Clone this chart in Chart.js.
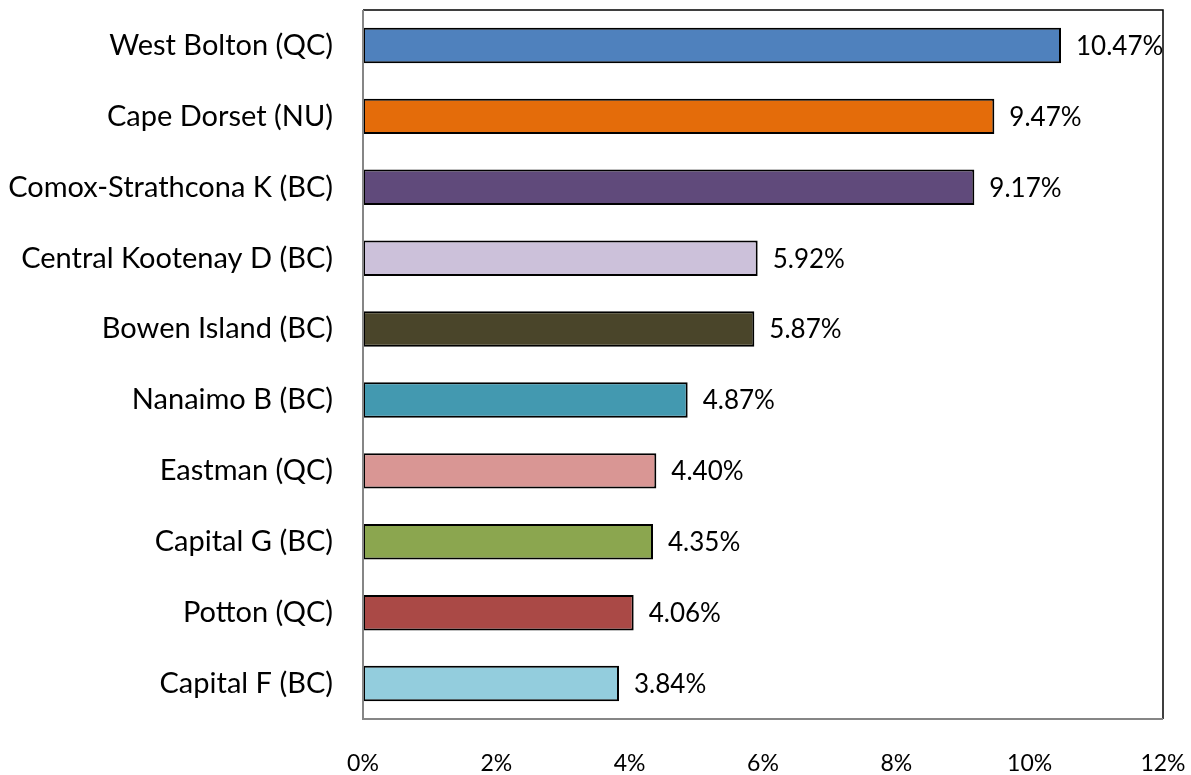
<!DOCTYPE html>
<html>
<head>
<meta charset="utf-8">
<script src="https://cdn.jsdelivr.net/npm/chart.js@4/dist/chart.umd.min.js"></script>
<style>
html,body{margin:0;padding:0;background:#fff;}
#wrap{width:1191px;height:775px;}
</style>
</head>
<body>
<div id="wrap"><canvas id="c" width="1191" height="775"></canvas></div>
<script>
const categories = ["West Bolton (QC)","Cape Dorset (NU)","Comox-Strathcona K (BC)","Central Kootenay D (BC)","Bowen Island (BC)","Nanaimo B (BC)","Eastman (QC)","Capital G (BC)","Potton (QC)","Capital F (BC)"];
const values = [10.47, 9.47, 9.17, 5.92, 5.87, 4.87, 4.40, 4.35, 4.06, 3.84];
const colors = ["#4F81BD","#E46C0A","#604A7B","#CCC1DA","#4A452A","#4399B0","#D99694","#8BA64F","#AA4946","#93CDDD"];
const xTicks = [0,2,4,6,8,10,12];

const FONT = "Lato, 'Open Sans', sans-serif";

const boxPlugin = {
  id:'box',
  afterDatasetsDraw(chart){
    const {ctx, chartArea:a} = chart;
    ctx.save();
    ctx.lineWidth = 1.5;
    ctx.strokeStyle = '#000';
    ctx.beginPath();
    ctx.moveTo(a.left, a.top); ctx.lineTo(a.right, a.top); ctx.lineTo(a.right, a.bottom);
    ctx.stroke();
    ctx.strokeStyle = '#868686';
    ctx.lineWidth = 2;
    ctx.beginPath();
    ctx.moveTo(a.left, a.top); ctx.lineTo(a.left, a.bottom); ctx.lineTo(a.right, a.bottom);
    ctx.stroke();
    // data labels
    const meta = chart.getDatasetMeta(0);
    ctx.fillStyle = '#000';
    ctx.font = "26px " + FONT;
    ctx.textAlign = 'left';
    ctx.textBaseline = 'middle';
    meta.data.forEach((bar, i) => {
      ctx.fillText(values[i].toFixed(2) + '%', bar.x + 15, bar.y + 1);
    });
    ctx.restore();
  }
};

function zeroPad(s){ s.paddingTop = 0; s.paddingBottom = 0; s.paddingLeft = 0; s.paddingRight = 0; }

new Chart(document.getElementById('c'), {
  type:'bar',
  data:{
    labels: categories,
    datasets:[{
      data: values,
      backgroundColor: colors,
      borderColor:'#000',
      borderWidth:2,
      borderSkipped:false,
      barPercentage:0.5,
      categoryPercentage:1.0
    }]
  },
  options:{
    indexAxis:'y',
    responsive:false,
    animation:false,
    devicePixelRatio:1,
    layout:{padding:{top:10,right:28,left:0,bottom:0}},
    plugins:{legend:{display:false},tooltip:{enabled:false}},
    scales:{
      x:{
        min:0,max:12,
        grid:{display:false, drawTicks:false},
        border:{display:false},
        afterBuildTicks(s){ s.ticks = xTicks.map(v=>({value:v})); },
        afterFit(s){ s.height = 56; zeroPad(s); },
        ticks:{
          padding:31,
          color:'#000',
          font:{family:FONT,size:23},
          callback:(v)=>v+'%'
        }
      },
      y:{
        grid:{display:false, drawTicks:false},
        border:{display:false},
        afterFit(s){ s.width = 363; zeroPad(s); },
        ticks:{
          padding:30,
          color:'#000',
          font:{family:FONT,size:29}
        }
      }
    }
  },
  plugins:[boxPlugin]
});
</script>
</body>
</html>
